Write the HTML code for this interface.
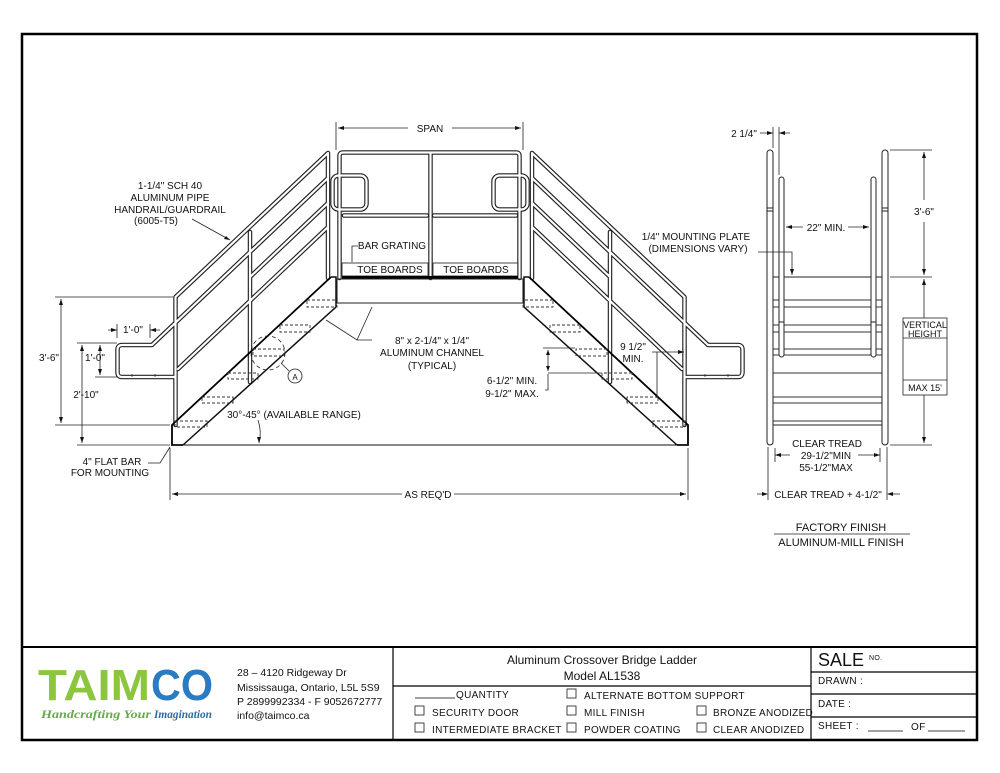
<!DOCTYPE html>
<html><head><meta charset="utf-8"><style>
html,body{margin:0;padding:0;background:#fff}
svg{display:block}
text{font-family:"Liberation Sans",sans-serif}
.d{font-size:10px;fill:#111}
.s{font-family:"Liberation Serif",serif;font-size:10px;letter-spacing:.3px;fill:#111}
</style></head><body>
<svg width="1000" height="773" viewBox="0 0 1000 773" xmlns="http://www.w3.org/2000/svg">
<defs>
<g id="half" fill="none">
  <g stroke="#222" stroke-width="4.5" stroke-linecap="round" stroke-linejoin="round">
    <path d="M328 153 L328 278 M328 153 L175.5 297 L175.5 425 M328 178 L152 345 L122 345 Q117.5 345 117.5 350 L117.5 372 Q117.5 377 122 377 L175 377 M328 203 L250 277 M328 227 L178 369 M250 232 L250 382"/>
  </g>
  <g stroke="#fff" stroke-width="2.2" stroke-linecap="round" stroke-linejoin="round">
    <path d="M328 153 L328 278 M328 153 L175.5 297 L175.5 425 M328 178 L152 345 L122 345 Q117.5 345 117.5 350 L117.5 372 Q117.5 377 122 377 L175 377 M328 203 L250 277 M328 227 L178 369 M250 232 L250 382"/>
  </g>
  <g stroke="#333" stroke-width="0.8"><path d="M132 377v-3 M155 377v-3"/></g>
  <path d="M331 277 L172 425 L172 445 L183 445" stroke="#000" stroke-width="1.8"/>
  <path d="M331 277 H336 V307 L183 445" stroke="#111" stroke-width="1.5"/>
  <g stroke="#333" stroke-width="0.9" stroke-dasharray="3,2">
    <rect x="307" y="300" width="30" height="7"/>
    <rect x="280" y="325" width="30" height="7"/>
    <rect x="253" y="349" width="31" height="7"/>
    <rect x="228" y="373" width="30" height="6"/>
    <rect x="202" y="397" width="31" height="6"/>
    <rect x="175" y="421" width="32" height="6"/>
  </g>
</g>
</defs>
<rect x="22" y="34" width="955" height="706" fill="none" stroke="#000" stroke-width="2.5"/>
<line x1="22" y1="647" x2="977" y2="647" stroke="#000" stroke-width="2"/>
<line x1="393" y1="647" x2="393" y2="740" stroke="#000" stroke-width="1.2"/>
<line x1="811" y1="647" x2="811" y2="740" stroke="#000" stroke-width="1.2"/>
<line x1="393" y1="686" x2="811" y2="686" stroke="#000" stroke-width="1.2"/>
<line x1="811" y1="672" x2="977" y2="672" stroke="#000" stroke-width="1.2"/>
<line x1="811" y1="694" x2="977" y2="694" stroke="#000" stroke-width="1.2"/>
<line x1="811" y1="717" x2="977" y2="717" stroke="#000" stroke-width="1.2"/>

<use href="#half"/>
<use href="#half" transform="matrix(-1,0,0,1,860,0)"/>

<g fill="none">
  <g stroke="#222" stroke-width="4.5" stroke-linecap="round" stroke-linejoin="round">
    <path d="M339.5 278 L339.5 156 Q339.5 152.5 343 152.5 L516 152.5 Q519.5 152.5 519.5 156 L519.5 278 M430.5 153 L430.5 278 M344 215.5 L427 215.5 M434 215.5 L516 215.5"/>
    <rect x="332.5" y="175.5" width="34" height="34" rx="6"/>
    <rect x="493.5" y="175.5" width="34" height="34" rx="6"/>
  </g>
  <g stroke="#fff" stroke-width="2.2" stroke-linecap="round" stroke-linejoin="round">
    <path d="M339.5 278 L339.5 156 Q339.5 152.5 343 152.5 L516 152.5 Q519.5 152.5 519.5 156 L519.5 278 M430.5 153 L430.5 278 M344 215.5 L427 215.5 M434 215.5 L516 215.5"/>
    <rect x="332.5" y="175.5" width="34" height="34" rx="6"/>
    <rect x="493.5" y="175.5" width="34" height="34" rx="6"/>
  </g>
  <rect x="342" y="263" width="86" height="13" stroke="#333" stroke-width="0.9"/>
  <rect x="433" y="263" width="85" height="13" stroke="#333" stroke-width="0.9"/>
  <rect x="342" y="276" width="176" height="3.5" fill="#000" stroke="none"/>
  <path d="M336 279 L524 279 M337 279 L337 303 L523 303 L523 279" stroke="#222" stroke-width="1.1"/>
  <line x1="172" y1="445" x2="688" y2="445" stroke="#111" stroke-width="1.1"/>
</g>

<g stroke="#222" stroke-width="0.8" fill="none">
  <path d="M336 122 V150 M523 122 V150 M338 128 H408 M452 128 H521"/>
  <path d="M55 297 H173 M55 425 H170 M61 299 V423 M77 343 H117 M77 445 H170 M82 345 V443 M100 345 V375 M95 377 H117 M117 324 V338 M150 324 V338 M108 330 H117 M150 330 H160"/>
  <path d="M170 448 V500 M688 448 V500 M172 494 H402 M454 494 H686"/>
  <path d="M148 463 H160 L170 447"/>
  <path d="M192 219 L230 240"/>
  <path d="M372 340 H357 L326 320 M357 340 L372 307"/>
  <path d="M352 262 V246 H358"/>
  <circle cx="268" cy="353" r="17" stroke-dasharray="4,3"/>
  <circle cx="295" cy="376" r="7"/>
  <path d="M281 363 L289 371"/>
  <path d="M258 420 Q262 432 259 443"/>
  <path d="M543 348 H575 M548 373 H602 M548 350 V371 M545 390 H548 V374"/>
  <path d="M652 352 H684 M657 352 V398"/>
</g>
<g fill="#111">
  <path d="M338 128 l6 -2 v4z M521 128 l-6 -2 v4z M172 494 l6 -2 v4z M686 494 l-6 -2 v4z M61 299 l-2 6 h4z M61 423 l-2 -6 h4z M82 345 l-2 6 h4z M82 443 l-2 -6 h4z M100 345 l-2 6 h4z M100 375 l-2 -6 h4z M117 330 l-6 -2 v4z M150 330 l6 -2 v4z M230 240 l-6 -1 l2 -3z M548 350 l-2 5 h4z M548 371 l-2 -5 h4z M684 352 l-6 -2 v4z M259 443 l-2 -6 h4z"/>
</g>
<g class="d" text-anchor="middle">
  <text x="430" y="132">SPAN</text>
  <text x="170" y="189">1-1/4" SCH 40</text>
  <text x="170" y="201">ALUMINUM PIPE</text>
  <text x="170" y="213">HANDRAIL/GUARDRAIL</text>
  <text x="156" y="224">(6005-T5)</text>
  <text x="392" y="249">BAR GRATING</text>
  <text x="390" y="273">TOE BOARDS</text>
  <text x="476" y="273">TOE BOARDS</text>
  <text x="432" y="344">8" x 2-1/4" x 1/4"</text>
  <text x="432" y="356">ALUMINUM CHANNEL</text>
  <text x="432" y="369">(TYPICAL)</text>
  <text x="295" y="380" font-size="8">A</text>
  <text x="294" y="418">30°-45° (AVAILABLE RANGE)</text>
  <text x="49" y="361">3'-6"</text>
  <text x="95" y="361">1'-0"</text>
  <text x="133" y="333">1'-0"</text>
  <text x="86" y="398">2'-10"</text>
  <text x="112" y="465">4" FLAT BAR</text>
  <text x="110" y="476">FOR MOUNTING</text>
  <text x="428" y="498">AS REQ'D</text>
  <text x="633" y="350">9 1/2"</text>
  <text x="633" y="362">MIN.</text>
  <text x="512" y="384">6-1/2" MIN.</text>
  <text x="512" y="397">9-1/2" MAX.</text>
</g>

<g fill="none">
  <rect x="768" y="277" width="119" height="148" stroke="#222" stroke-width="1"/>
  <path d="M772 277 V425 M883 277 V425" stroke="#000" stroke-width="1.6"/>
  <g stroke="#333" stroke-width="0.9">
    <path d="M773 300 H882 M773 307 H882 M773 325 H882 M773 332 H882 M773 349 H882 M773 355 H882 M773 373 H882 M773 397 H882 M773 403 H882 M773 421 H882"/>
  </g>
  <g stroke="#222" stroke-width="1">
    <rect x="767" y="150" width="6" height="295" rx="3" fill="#fff"/>
    <rect x="882" y="150" width="6" height="295" rx="3" fill="#fff"/>
    <rect x="779" y="177" width="5" height="180" rx="2.5" fill="#fff"/>
    <rect x="871" y="177" width="5" height="180" rx="2.5" fill="#fff"/>
    <path d="M767 208 H773 M767 211 H773 M882 208 H888 M882 211 H888 M779 322 H784 M871 322 H876"/>
  </g>
  <g stroke="#222" stroke-width="0.8">
    <path d="M773 127 V148 M779 127 V175 M760 133 H773 M779 133 H790"/>
    <path d="M786 227 H803 M848 227 H869"/>
    <path d="M758 252 H792 V275"/>
    <path d="M890 150 H932 M890 277 H932 M890 445 H932 M924 152 V200 M924 222 V275 M924 279 V318 M924 395 V443"/>
    <rect x="903" y="318" width="44" height="77"/>
    <path d="M903 338 H947 M903 380 H947"/>
    <path d="M768 447 V500 M887 447 V500 M775 448 V462 M880 448 V462 M775 455 H790 M858 455 H880 M757 494 H767 M888 494 H900"/>
    <path d="M774 534 H910"/>
  </g>
  <g fill="#111">
    <path d="M773 133 l-6 -2 v4z M779 133 l6 -2 v4z M786 227 l6 -2 v4z M869 227 l-6 -2 v4z M792 275 l-2 -6 h4z M924 152 l-2 6 h4z M924 275 l-2 -6 h4z M924 279 l-2 6 h4z M924 443 l-2 -6 h4z M775 455 l6 -2 v4z M880 455 l-6 -2 v4z M768 494 l-6 -2 v4z M887 494 l6 -2 v4z"/>
  </g>
</g>
<g class="d" text-anchor="middle">
  <text x="744" y="137">2 1/4"</text>
  <text x="826" y="231">22" MIN.</text>
  <text x="696" y="240">1/4" MOUNTING PLATE</text>
  <text x="698" y="252">(DIMENSIONS VARY)</text>
  <text x="924" y="215">3'-6"</text>
  <text x="925" y="328" font-size="9">VERTICAL</text>
  <text x="925" y="337" font-size="9">HEIGHT</text>
  <text x="925" y="391" font-size="9">MAX 15'</text>
  <text x="827" y="447">CLEAR TREAD</text>
  <text x="826" y="459">29-1/2"MIN</text>
  <text x="826" y="471">55-1/2"MAX</text>
  <text x="828" y="498">CLEAR TREAD + 4-1/2"</text>
  <text x="841" y="531" font-size="11">FACTORY FINISH</text>
  <text x="841" y="546" font-size="11">ALUMINUM-MILL FINISH</text>
</g>

<text x="38" y="700" font-size="44" font-weight="bold" style="fill:#8cc63e" textLength="112" lengthAdjust="spacingAndGlyphs">TAIM</text>
<text x="151" y="700" font-size="44" font-weight="bold" style="fill:#2b7bc4" textLength="62" lengthAdjust="spacingAndGlyphs">CO</text>
<text x="41" y="718" font-size="12" font-style="italic" font-weight="bold" style="font-family:'Liberation Serif',serif;fill:#6aa84f" textLength="110" lengthAdjust="spacingAndGlyphs">Handcrafting Your</text>
<text x="154" y="718" font-size="12" font-style="italic" font-weight="bold" style="font-family:'Liberation Serif',serif;fill:#2b6ca8" textLength="58" lengthAdjust="spacingAndGlyphs">Imagination</text>
<g font-size="10.5" style="fill:#111">
  <text x="237" y="676">28 – 4120 Ridgeway Dr</text>
  <text x="237" y="691">Mississauga, Ontario, L5L 5S9</text>
  <text x="237" y="705">P 2899992334 - F 9052672777</text>
  <text x="237" y="719">info@taimco.ca</text>
</g>
<g font-size="12" text-anchor="middle" style="fill:#111">
  <text x="602" y="664">Aluminum Crossover Bridge Ladder</text>
  <text x="602" y="680">Model AL1538</text>
</g>
<g class="s">
  <line x1="415" y1="698" x2="455" y2="698" stroke="#000" stroke-width="0.8"/>
  <text x="456" y="698">QUANTITY</text>
  <g fill="none" stroke="#333" stroke-width="0.9">
    <rect x="567" y="689" width="9" height="9"/>
    <rect x="415" y="706" width="9" height="9"/>
    <rect x="567" y="706" width="9" height="9"/>
    <rect x="697" y="706" width="9" height="9"/>
    <rect x="415" y="723" width="9" height="9"/>
    <rect x="567" y="723" width="9" height="9"/>
    <rect x="697" y="723" width="9" height="9"/>
  </g>
  <text x="584" y="699">ALTERNATE BOTTOM SUPPORT</text>
  <text x="432" y="716">SECURITY DOOR</text>
  <text x="584" y="716">MILL FINISH</text>
  <text x="713" y="716">BRONZE ANODIZED</text>
  <text x="432" y="733">INTERMEDIATE BRACKET</text>
  <text x="584" y="733">POWDER COATING</text>
  <text x="713" y="733">CLEAR ANODIZED</text>
  <text x="818" y="666" font-size="18" letter-spacing="0">SALE</text>
  <text x="869" y="660" font-size="7">NO.</text>
  <text x="818" y="684">DRAWN :</text>
  <text x="818" y="707">DATE :</text>
  <text x="818" y="729">SHEET :</text>
  <text x="911" y="730">OF</text>
  <line x1="868" y1="731" x2="903" y2="731" stroke="#000" stroke-width="0.8"/>
  <line x1="928" y1="731" x2="965" y2="731" stroke="#000" stroke-width="0.8"/>
</g>
</svg>
</body></html>
